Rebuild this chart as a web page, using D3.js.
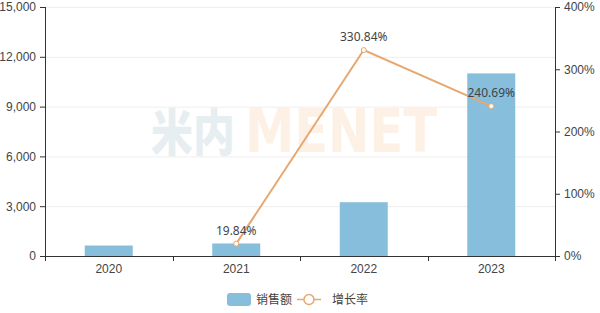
<!DOCTYPE html>
<html><head><meta charset="utf-8">
<script src="https://cdn.jsdelivr.net/npm/d3@7"></script>
<style>
html,body{margin:0;padding:0;background:#fff;}
svg{display:block;font-family:"Noto Sans","Noto Sans CJK SC",sans-serif;}
</style></head>
<body>
<svg id="c" width="600" height="313"></svg>
<script>
const categories = ["2020", "2021", "2022", "2023"];
const sales = [630, 755, 3240, 11000];
const growth = [null, 19.84, 330.84, 240.69];
const leftTicks = [0, 3000, 6000, 9000, 12000, 15000];
const rightTicks = [0, 100, 200, 300, 400];
const legendNames = ["销售额", "增长率"];

const svg = d3.select("#c");
const L = 45, R = 555, T = 7, B = 256;
const x = d3.scaleBand().domain(categories).range([L, R]);
const yL = d3.scaleLinear().domain([0, 15000]).range([B, T]);
const yR = d3.scaleLinear().domain([0, 400]).range([B, T]);
const barColor = "#86bedc", lineColor = "#e6a870", axisColor = "#333", textColor = "#444";

// grid
svg.append("g").selectAll("line").data(leftTicks.slice(1)).join("line")
  .attr("x1", L).attr("x2", R).attr("y1", d => yL(d) + 0.5).attr("y2", d => yL(d) + 0.5)
  .attr("stroke", "#eeeeee");

// watermark
svg.append("text").attr("x", 151).attr("y", 151)
  .attr("font-size", 50).attr("font-weight", 900)
  .attr("font-family", "'Noto Sans CJK SC', sans-serif")
  .attr("textLength", 84).attr("lengthAdjust", "spacingAndGlyphs")
  .attr("fill", "#e7eef2").text("米内");
svg.append("text").attr("x", 245).attr("y", 152)
  .attr("font-size", 60).attr("font-weight", 700)
  .attr("font-family", "'DejaVu Sans', sans-serif")
  .attr("textLength", 192).attr("lengthAdjust", "spacingAndGlyphs")
  .attr("fill", "#fdf0e5").text("MENET");

// bars
const bw = 48;
svg.append("g").selectAll("rect").data(sales).join("rect")
  .attr("x", (d, i) => x(categories[i]) + x.bandwidth() / 2 - bw / 2)
  .attr("width", bw)
  .attr("y", d => yL(d))
  .attr("height", d => B - yL(d))
  .attr("fill", barColor);

// axes
const axL = svg.append("g").attr("transform", `translate(${L},0)`)
  .call(d3.axisLeft(yL).tickValues(leftTicks).tickFormat(d3.format(",")).tickSize(5).tickPadding(4));
const axR = svg.append("g").attr("transform", `translate(${R},0)`)
  .call(d3.axisRight(yR).tickValues(rightTicks).tickFormat(d => d + "%").tickSize(5).tickPadding(4));
const axB = svg.append("g").attr("transform", `translate(0,${B})`)
  .call(d3.axisBottom(x).tickSize(0).tickPadding(8));
// category boundary ticks
svg.append("g").selectAll("line").data(d3.range(categories.length + 1)).join("line")
  .attr("x1", i => Math.round(L + i * x.bandwidth()) + 0.5)
  .attr("x2", i => Math.round(L + i * x.bandwidth()) + 0.5)
  .attr("y1", B).attr("y2", B + 5).attr("stroke", axisColor);
[axL, axR, axB].forEach(a => {
  a.selectAll(".domain").attr("stroke", axisColor);
  a.selectAll(".tick line").attr("stroke", axisColor);
  a.selectAll("text").attr("fill", textColor).attr("font-size", 12);
});
axL.select(".domain").attr("d", `M0.5,${T}V${B}`);
axR.select(".domain").attr("d", `M0.5,${T}V${B}`);
axB.select(".domain").attr("d", `M${L},0.5H${R}`);

// line
const pts = growth.map((g, i) => ({ g, c: categories[i] })).filter(p => p.g !== null);
const cx = p => x(p.c) + x.bandwidth() / 2;
svg.append("path").datum(pts)
  .attr("d", d3.line().x(cx).y(p => yR(p.g)))
  .attr("fill", "none").attr("stroke", lineColor).attr("stroke-width", 2);
svg.append("g").selectAll("circle").data(pts).join("circle")
  .attr("cx", cx).attr("cy", p => yR(p.g)).attr("r", 2.5)
  .attr("fill", "#fff").attr("stroke", lineColor).attr("stroke-width", 1);
svg.append("g").selectAll("text").data(pts).join("text")
  .attr("x", cx).attr("y", p => yR(p.g) - 9)
  .attr("text-anchor", "middle").attr("font-size", 12).attr("fill", textColor)
  .text(p => p.g.toFixed(2) + "%");

// legend
const lg = svg.append("g");
lg.append("rect").attr("x", 227).attr("y", 293).attr("width", 24).attr("height", 13).attr("rx", 3).attr("fill", barColor);
lg.append("text").attr("x", 256).attr("y", 303.5).attr("font-size", 12).attr("fill", textColor).text(legendNames[0]);
lg.append("line").attr("x1", 297).attr("x2", 321).attr("y1", 299.5).attr("y2", 299.5).attr("stroke", lineColor).attr("stroke-width", 1.5);
lg.append("circle").attr("cx", 309).attr("cy", 299.5).attr("r", 5).attr("fill", "#fff").attr("stroke", lineColor).attr("stroke-width", 1.5);
lg.append("text").attr("x", 332).attr("y", 303.5).attr("font-size", 12).attr("fill", textColor).text(legendNames[1]);
</script>
</body></html>
